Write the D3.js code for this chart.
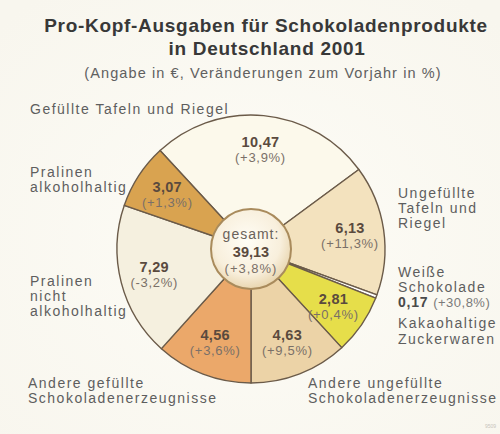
<!DOCTYPE html>
<html><head><meta charset="utf-8">
<script src="https://cdn.jsdelivr.net/npm/d3@7"></script>
<style>
html,body{margin:0;padding:0;background:#fbfaf3;}
svg{display:block;font-family:"Liberation Sans",Arial,sans-serif;}
</style></head>
<body>
<script>
// ---- data ----
const categories = ["Gefüllte Tafeln und Riegel","Ungefüllte Tafeln und Riegel","Weiße Schokolade","Kakaohaltige Zuckerwaren","Andere ungefüllte Schokoladenerzeugnisse","Andere gefüllte Schokoladenerzeugnisse","Pralinen nicht alkoholhaltig","Pralinen alkoholhaltig"];
const values = [10.47, 6.13, 0.17, 2.81, 4.63, 4.56, 7.29, 3.07];
const changes = ["+3,9%","+11,3%","+30,8%","+0,4%","+9,5%","+3,6%","-3,2%","+1,3%"];
const valueLabels = ["10,47","6,13","0,17","2,81","4,63","4,56","7,29","3,07"];
const colors = ["#fcf9eb","#f3e2be","#ffffff","#e6de4a","#ecd3a7","#eba86a","#f5f0df","#d9a350"];
const total = "39,13", totalChange = "+3,8%";

const W = 500, H = 434;
const svg = d3.select("body").append("svg").attr("width", W).attr("height", H);

const defs = svg.append("defs");
const bg = defs.append("radialGradient").attr("id","bg").attr("cx","50%").attr("cy","55%").attr("r","70%");
bg.append("stop").attr("offset","0%").attr("stop-color","#fdfcf6");
bg.append("stop").attr("offset","100%").attr("stop-color","#f8f6ee");
svg.append("rect").attr("width",W).attr("height",H).attr("fill","url(#bg)");

const inner = defs.append("radialGradient").attr("id","inner").attr("cx","45%").attr("cy","40%").attr("r","60%");
inner.append("stop").attr("offset","0%").attr("stop-color","#fffdf5");
inner.append("stop").attr("offset","70%").attr("stop-color","#f8efdc");
inner.append("stop").attr("offset","100%").attr("stop-color","#e9d6b0");

// ---- title ----
const title = svg.append("g").attr("text-anchor","middle").attr("fill","#383838");
title.append("text").attr("x",266).attr("y",32).attr("font-size",19).attr("font-weight","bold").attr("letter-spacing",0.7).text("Pro-Kopf-Ausgaben für Schokoladenprodukte");
title.append("text").attr("x",267).attr("y",55).attr("font-size",19).attr("font-weight","bold").attr("letter-spacing",0.7).text("in Deutschland 2001");
title.append("text").attr("x",263).attr("y",78).attr("font-size",14.5).attr("fill","#606060").attr("letter-spacing",1.1).text("(Angabe in €, Veränderungen zum Vorjahr in %)");

// ---- pie ----
const cx = 251, cy = 249, R = 134, r0 = 40;
const startA = (180 - 360 * d3.sum(values.slice(0,5)) / d3.sum(values)) * Math.PI / 180;
const pie = d3.pie().sort(null).value(d => d).startAngle(startA).endAngle(startA + 2 * Math.PI);
const arcs = pie(values);
const arc = d3.arc().innerRadius(0).outerRadius(R);
const labelArc = d3.arc().innerRadius(100).outerRadius(100);

const g = svg.append("g").attr("transform", `translate(${cx},${cy})`);
g.selectAll("path.slice").data(arcs).join("path")
  .attr("class","slice").attr("d", arc)
  .attr("fill", (d,i) => colors[i])
  .attr("stroke","#6b5b49").attr("stroke-width",1.4).attr("stroke-linejoin","round");

g.append("circle").attr("r", r0).attr("fill","url(#inner)").attr("stroke","#a98b5c").attr("stroke-width",2);

// slice labels
arcs.forEach((d,i) => {
  if (i === 2) return;
  const [x,y] = labelArc.centroid(d);
  const t = g.append("g").attr("text-anchor","middle").attr("transform",`translate(${x},${y})`);
  t.append("text").attr("y",-2).attr("font-size",14.5).attr("font-weight","bold").attr("fill","#5a4a3e").attr("letter-spacing",0.3).text(valueLabels[i]);
  t.append("text").attr("y",13).attr("font-size",13).attr("fill","#7a7068").attr("letter-spacing",0.7).text("(" + changes[i] + ")");
});

// center
const c = g.append("g").attr("text-anchor","middle");
c.append("text").attr("y",-10).attr("font-size",14).attr("fill","#6a625a").attr("letter-spacing",1).text("gesamt:");
c.append("text").attr("y",8).attr("font-size",14.5).attr("font-weight","bold").attr("fill","#5a4a3e").text(total);
c.append("text").attr("y",24).attr("font-size",13).attr("fill","#7a7068").attr("letter-spacing",1).text("(" + totalChange + ")");

// ---- outer category labels ----
const lab = svg.append("g").attr("font-size",14).attr("fill","#5e5e5e").attr("letter-spacing",1.5);
function lines(x, y, arr, lh) {
  const t = lab.append("text").attr("x",x).attr("y",y);
  arr.forEach((s,k) => t.append("tspan").attr("x",x).attr("dy", k ? lh : 0).text(s));
  return t;
}
lines(30, 114, ["Gefüllte Tafeln und Riegel"], 15);
lines(30, 177, ["Pralinen","alkoholhaltig"], 15);
lines(30, 286, ["Pralinen","nicht","alkoholhaltig"], 15);
lines(28, 388, ["Andere gefüllte","Schokoladenerzeugnisse"], 15);
lines(398, 198, ["Ungefüllte","Tafeln und","Riegel"], 15);
lines(398, 277, ["Weiße","Schokolade"], 15);
const wl = lab.append("text").attr("x",398).attr("y",307);
wl.append("tspan").attr("font-weight","bold").attr("fill","#4a4a4a").attr("letter-spacing",0.8).text(valueLabels[2] + " ");
wl.append("tspan").attr("font-size",13).attr("fill","#7a7a7a").attr("letter-spacing",0.5).text("(" + changes[2] + ")");
lines(398, 328, ["Kakaohaltige","Zuckerwaren"], 16);
lines(308, 388, ["Andere ungefüllte","Schokoladenerzeugnisse"], 15);

svg.append("text").attr("x",496).attr("y",428).attr("text-anchor","end").attr("font-size",5).attr("fill","#c8c4bc").text("9509");
</script>
</body></html>
